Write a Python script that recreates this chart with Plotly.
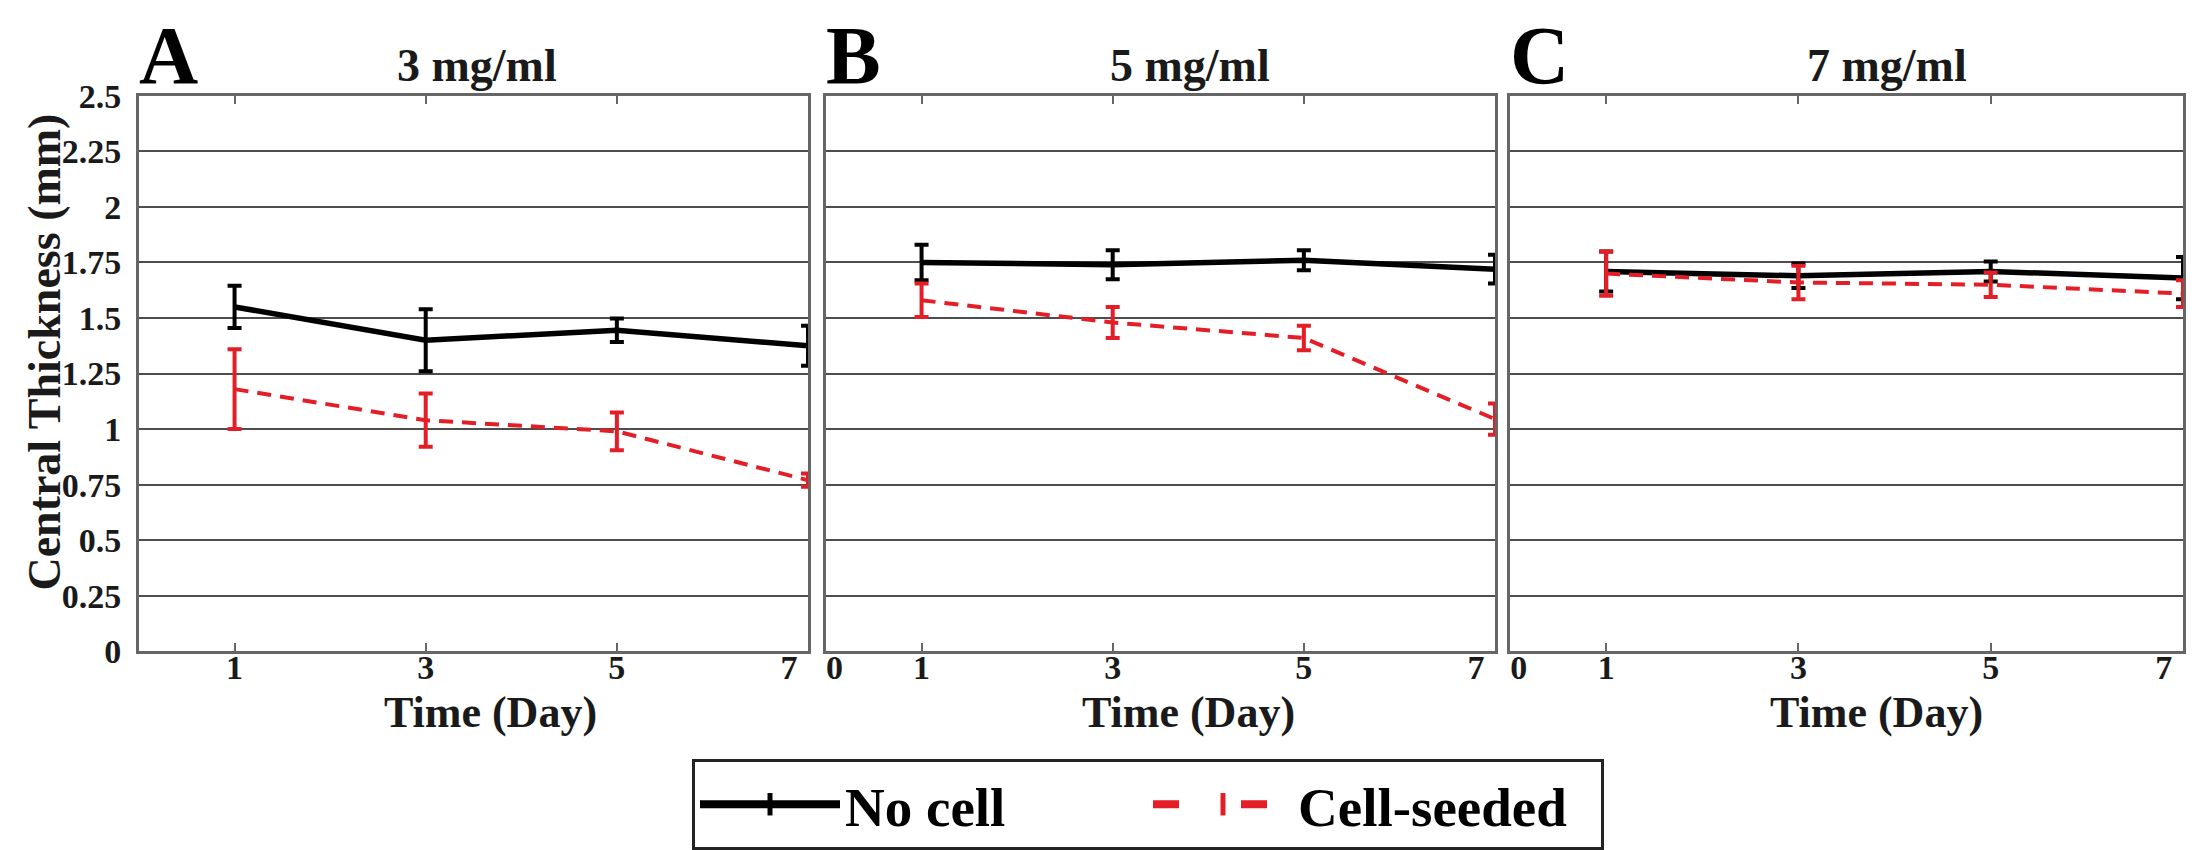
import plotly.graph_objects as go

# Central thickness of the gels over time
days = [1, 3, 5, 7]
tick_days = [0, 1, 3, 5, 7]
y_ticks = [0, 0.25, 0.5, 0.75, 1, 1.25, 1.5, 1.75, 2, 2.25, 2.5]

panel_letters = ['A', 'B', 'C']
panel_titles = ['3 mg/ml', '5 mg/ml', '7 mg/ml']
series_names = ['No cell', 'Cell-seeded']

# one row per panel (3, 5, 7 mg/ml)
no_cell_mean = [[1.55, 1.40, 1.445, 1.375],
                [1.75, 1.74, 1.76, 1.72],
                [1.71, 1.69, 1.71, 1.68]]
no_cell_err = [[0.095, 0.14, 0.053, 0.09],
               [0.08, 0.065, 0.045, 0.065],
               [0.09, 0.055, 0.045, 0.095]]
seeded_mean = [[1.18, 1.04, 0.99, 0.77],
               [1.58, 1.48, 1.41, 1.045],
               [1.70, 1.66, 1.65, 1.61]]
seeded_err = [[0.18, 0.12, 0.085, 0.03],
              [0.075, 0.07, 0.055, 0.07],
              [0.10, 0.075, 0.055, 0.06]]

# the page body has an 8px margin, so the figure is a bit smaller than the window
OFF = 8
W, H = 2208 - OFF, 850 - OFF
FONT = 'Liberation Serif'
RED = '#e41e26'
FRAME = '#666666'
GRID = '#4d4d4d'

# panel placement in window pixels
lefts = [139, 826, 1510]
rights = [808, 1495, 2183]
top, bottom = 96, 652


def fx(p):
    return (p - OFF) / W


def fy(p):
    return 1 - (p - OFF) / H


def label_pos(d):
    # end labels sit a little inside the frame, like the original
    if d == 0:
        return d + 0.09
    if d == 7:
        return d - 0.2
    return d


fig = go.Figure()

for i in range(3):
    xa = 'x' if i == 0 else f'x{i + 1}'
    ya = 'y' if i == 0 else f'y{i + 1}'
    fig.add_trace(go.Scatter(x=days, y=no_cell_mean[i], xaxis=xa, yaxis=ya,
                             mode='lines', line=dict(color='black', width=5.5),
                             error_y=dict(type='data', array=no_cell_err[i], color='black',
                                          thickness=4, width=7),
                             cliponaxis=False, showlegend=False))
    fig.add_trace(go.Scatter(x=days, y=seeded_mean[i], xaxis=xa, yaxis=ya,
                             mode='lines', line=dict(color=RED, width=4, dash='14px,9px'),
                             error_y=dict(type='data', array=seeded_err[i], color=RED,
                                          thickness=4, width=7),
                             cliponaxis=False, showlegend=False))

# legend entries
fig.add_trace(go.Scatter(x=[None], y=[None], name=series_names[0], mode='lines+markers',
                         line=dict(color='black', width=8),
                         marker=dict(symbol='line-ns-open', size=16, color='black',
                                     line=dict(width=7, color='black'))))
fig.add_trace(go.Scatter(x=[None], y=[None], name=series_names[1], mode='lines+markers',
                         line=dict(color=RED, width=8, dash='26px,62px'),
                         marker=dict(symbol='line-ns-open', size=16, color=RED,
                                     line=dict(width=7, color=RED))))

layout = dict(
    width=W, height=H,
    margin=dict(l=0, r=0, t=0, b=0),
    paper_bgcolor='white', plot_bgcolor='white',
    font=dict(family=FONT, size=34, color='#1a1a1a', weight='bold'),
    legend=dict(orientation='h', x=fx(692), y=fy(760), xanchor='left', yanchor='top',
                bgcolor='white', bordercolor='#222222', borderwidth=3,
                font=dict(family=FONT, size=55, color='black', weight='bold'),
                itemwidth=140, entrywidth=298, tracegroupgap=0),
)

for i in range(3):
    sx = '' if i == 0 else str(i + 1)
    shown = tick_days if i > 0 else tick_days[1:]
    layout['xaxis' + sx] = dict(
        domain=[fx(lefts[i]), fx(rights[i])], range=[0, 7], anchor='y' + sx,
        tickmode='array', tickvals=[label_pos(d) for d in shown],
        ticktext=[str(d) for d in shown], ticks='', ticklabelstandoff=-16,
        minor=dict(tickmode='array', tickvals=days[:-1], ticks='inside',
                   ticklen=8, tickwidth=2, tickcolor=FRAME),
        showline=True, linecolor=FRAME, linewidth=3, mirror='ticks',
        showgrid=False, zeroline=False, fixedrange=True, automargin=False,
    )
    layout['yaxis' + sx] = dict(
        domain=[fy(bottom), fy(top)], range=[0, 2.5], anchor='x' + sx,
        tickmode='array', tickvals=y_ticks, showticklabels=(i == 0), ticks='',
        showline=True, linecolor=FRAME, linewidth=3, mirror=True,
        showgrid=True, gridcolor=GRID, gridwidth=2, zeroline=False,
        ticklabelstandoff=8, fixedrange=True, automargin=False,
    )

fig.update_layout(**layout)

title_x = [477, 1190, 1887]
xlabel_x = [490, 1188, 1876]
for i in range(3):
    fig.add_annotation(text=panel_letters[i], x=fx(lefts[i] - 2), y=fy(56), xref='paper', yref='paper',
                       xanchor='left', yanchor='middle', showarrow=False,
                       font=dict(family=FONT, size=82, color='black', weight='bold'))
    fig.add_annotation(text=panel_titles[i], x=fx(title_x[i]), y=fy(66), xref='paper', yref='paper',
                       xanchor='center', yanchor='middle', showarrow=False,
                       font=dict(family=FONT, size=46, color='#1a1a1a', weight='bold'))
    fig.add_annotation(text='Time (Day)', x=fx(xlabel_x[i]), y=fy(713), xref='paper', yref='paper',
                       xanchor='center', yanchor='middle', showarrow=False,
                       font=dict(family=FONT, size=44, color='#1a1a1a', weight='bold'))

fig.add_annotation(text='Central Thickness (mm)', x=fx(45), y=fy(353), xref='paper', yref='paper',
                   xanchor='center', yanchor='middle', textangle=-90, showarrow=False,
                   font=dict(family=FONT, size=46, color='#1a1a1a', weight='bold'))

fig.write_html('out.html')
